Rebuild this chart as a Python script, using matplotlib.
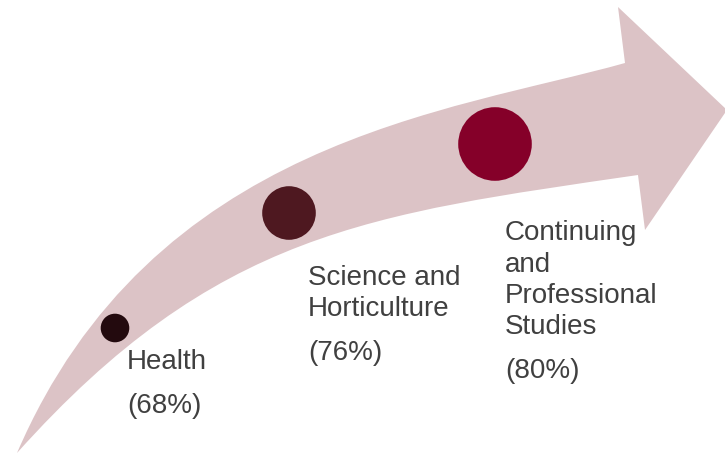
import matplotlib
matplotlib.use("Agg")
import matplotlib.pyplot as plt
from matplotlib.path import Path
from matplotlib.patches import PathPatch, Circle

# programmes and their rates
programs = ["Health", "Science and\nHorticulture", "Continuing\nand\nProfessional\nStudies"]
rates = [68, 76, 80]

# layout (pixel coords, y grows downward)
dot_xy = [(115, 328), (289, 213), (495, 144)]
dot_r = [14.3, 26.8, 36.8]
dot_colors = ["#230A0E", "#4E1820", "#850029"]
text_x = [127, 308, 505]
first_base = [369, 285, 240]
pitch = 31.5
pct_gap = 44

ARROW = "#DCC3C6"
TXT = "#404040"
FONT = "Liberation Sans"

fig = plt.figure(figsize=(7.25, 4.55), dpi=100)
ax = fig.add_axes([0, 0, 1, 1])
ax.set_xlim(0, 725)
ax.set_ylim(455, 0)
ax.axis("off")

# curved arrow: upper edge, head, lower edge back to the tail
verts = [
    (17, 453),
    (152, 140), (450, 112), (625, 63),   # upper edge
    (618, 7),                            # head top
    (727, 110),                          # tip
    (645, 230),                          # head bottom
    (638, 175),                          # back to body
    (370, 214), (215, 232), (17, 453),   # lower edge
    (17, 453),
]
codes = [Path.MOVETO,
         Path.CURVE4, Path.CURVE4, Path.CURVE4,
         Path.LINETO, Path.LINETO, Path.LINETO, Path.LINETO,
         Path.CURVE4, Path.CURVE4, Path.CURVE4,
         Path.CLOSEPOLY]
ax.add_patch(PathPatch(Path(verts, codes), facecolor=ARROW, edgecolor="none"))

for i in range(len(programs)):
    ax.add_patch(Circle(dot_xy[i], dot_r[i], facecolor=dot_colors[i], edgecolor="none"))
    y = first_base[i]
    for ln in programs[i].split("\n"):
        ax.text(text_x[i], y, ln, fontsize=20, family=FONT, color=TXT,
                ha="left", va="baseline")
        y += pitch
    y = y - pitch + pct_gap
    ax.text(text_x[i], y, "(%d%%)" % rates[i], fontsize=20, family=FONT,
            color=TXT, ha="left", va="baseline")

fig.savefig("out.png", dpi=100)
